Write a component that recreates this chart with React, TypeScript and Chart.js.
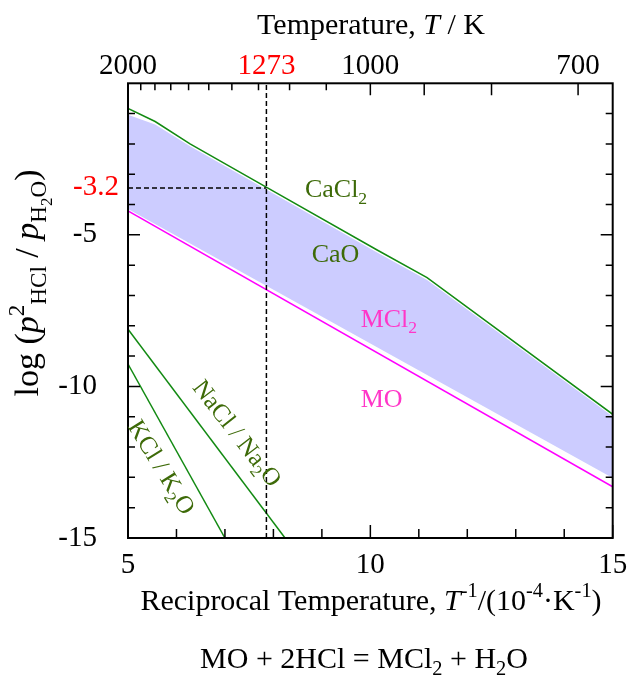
import React, { useEffect, useRef } from 'react';
import { Chart, registerables } from 'chart.js';

Chart.register(...registerables);

const FONT = '"Liberation Serif", "Times New Roman", Times, serif';

// ---- data ----
const caCl2X = [5, 5.56, 6.28, 7.87, 10.14, 11.17, 15];
const caCl2Y = [-0.83, -1.26, -2.0, -3.44, -5.5, -6.41, -10.92];
const fillTopX = [5, 5.56, 6.28, 7.87, 10.14, 11.17, 15];
const fillTopY = [-1.04, -1.36, -2.08, -3.52, -5.58, -6.49, -10.99];
const fillBottomX = [5, 15];
const fillBottomY = [-4.15, -13.02];
const moX = [5, 15];
const moY = [-4.21, -13.31];
const naClX = [5, 8.24];
const naClY = [-8.11, -15];
const kClX = [5, 7.0];
const kClY = [-9.26, -15];

const markTemp = 1273;
const markLogP = -3.45;
const markLabel = '-3.2';

const xTickValues = [5, 10, 15];
const xMinorTicks = [6, 7, 8, 9, 11, 12, 13, 14];
const yTickValues = [-15, -10, -5];
const yMinorTicks = [-14, -13, -12, -11, -9, -8, -7, -6, -4, -3, -2, -1];
const topTempLabels = [2000, 1273, 1000, 700];
const topTempColors = ['#000000', '#ff0000', '#000000', '#000000'];
const topTempMinor = [1900, 1800, 1700, 1600, 1500, 1400, 1300, 1200, 1100];
const topTempMajor = [1000, 900, 800, 700];

const GREEN_LINE = '#128a12';
const GREEN_TEXT = '#3d6a08';
const MAGENTA_LINE = '#ff00ff';
const MAGENTA_TEXT = '#ff36c8';
const FILL = '#ccccff';

const pts = (xs: number[], ys: number[]) => xs.map((x, i) => ({ x, y: ys[i] }));

type Seg = { t: string; i?: boolean; k?: 'sup' | 'sub' | 'subsub' };

function segScale(s: Seg) {
  if (s.k === 'subsub') return 0.5;
  if (s.k) return 0.68;
  return 1;
}
function segDy(s: Seg, size: number) {
  if (s.k === 'sup') return -0.42 * size;
  if (s.k === 'sub') return 0.24 * size;
  if (s.k === 'subsub') return 0.4 * size;
  return 0;
}
function drawRich(
  ctx: CanvasRenderingContext2D,
  segs: Seg[],
  x: number,
  y: number,
  size: number,
  color: string,
  align: 'left' | 'center' | 'right'
) {
  ctx.textAlign = 'left';
  ctx.textBaseline = 'alphabetic';
  ctx.fillStyle = color;
  const widths = segs.map((s) => {
    ctx.font = `${s.i ? 'italic ' : ''}${size * segScale(s)}px ${FONT}`;
    return ctx.measureText(s.t).width;
  });
  const total = widths.reduce((a, b) => a + b, 0);
  let cx = align === 'center' ? x - total / 2 : align === 'right' ? x - total : x;
  segs.forEach((s, idx) => {
    ctx.font = `${s.i ? 'italic ' : ''}${size * segScale(s)}px ${FONT}`;
    ctx.fillText(s.t, cx, y + segDy(s, size));
    cx += widths[idx];
  });
}

const overlay = {
  id: 'overlay',
  afterDraw(chart: any) {
    const ctx: CanvasRenderingContext2D = chart.ctx;
    const { left, right, top, bottom } = chart.chartArea;
    const xs = chart.scales.x;
    const ys = chart.scales.y;
    ctx.save();

    // ticks
    ctx.strokeStyle = '#000';
    ctx.lineWidth = 1.5;
    ctx.beginPath();
    const tickX = (v: number, len: number) => {
      const p = xs.getPixelForValue(v);
      ctx.moveTo(p, bottom);
      ctx.lineTo(p, bottom - len);
    };
    xTickValues.forEach((v) => tickX(v, 13));
    xMinorTicks.forEach((v) => tickX(v, 9));
    const tickTop = (t: number, len: number) => {
      const p = xs.getPixelForValue(1e4 / t);
      ctx.moveTo(p, top);
      ctx.lineTo(p, top + len);
    };
    topTempMinor.forEach((t) => tickTop(t, 7));
    topTempMajor.forEach((t) => tickTop(t, 12));
    const tickY = (v: number, len: number) => {
      const p = ys.getPixelForValue(v);
      ctx.moveTo(left, p);
      ctx.lineTo(left + len, p);
      ctx.moveTo(right, p);
      ctx.lineTo(right - len, p);
    };
    yTickValues.forEach((v) => tickY(v, 12));
    yMinorTicks.forEach((v) => tickY(v, 7));
    ctx.stroke();

    // frame
    ctx.lineWidth = 2;
    ctx.strokeRect(left, top, right - left, bottom - top);

    // red -3.2 label
    ctx.font = `29px ${FONT}`;
    ctx.fillStyle = '#ff0000';
    ctx.textAlign = 'right';
    ctx.textBaseline = 'middle';
    ctx.fillText(markLabel, left - 9, ys.getPixelForValue(markLogP));

    // axis titles
    drawRich(ctx, [{ t: 'Temperature, ' }, { t: 'T', i: true }, { t: ' / K' }], 371, 34, 30, '#000', 'center');
    drawRich(
      ctx,
      [
        { t: 'Reciprocal Temperature, ' },
        { t: 'T', i: true },
        { t: '-1', k: 'sup' },
        { t: '/(10' },
        { t: '-4', k: 'sup' },
        { t: '\u00b7K' },
        { t: '-1', k: 'sup' },
        { t: ')' },
      ],
      371,
      610,
      30,
      '#000',
      'center'
    );
    drawRich(
      ctx,
      [{ t: 'MO + 2HCl = MCl' }, { t: '2', k: 'sub' }, { t: ' + H' }, { t: '2', k: 'sub' }, { t: 'O' }],
      364,
      668,
      30,
      '#000',
      'center'
    );
    ctx.save();
    ctx.translate(38, 283);
    ctx.rotate(-Math.PI / 2);
    drawRich(
      ctx,
      [
        { t: 'log (' },
        { t: 'p', i: true },
        { t: '2', k: 'sup' },
        { t: 'HCl', k: 'sub' },
        { t: ' / ' },
        { t: 'p', i: true },
        { t: 'H', k: 'sub' },
        { t: '2', k: 'subsub' },
        { t: 'O', k: 'sub' },
        { t: ')' },
      ],
      0,
      0,
      34,
      '#000',
      'center'
    );
    ctx.restore();

    // region labels
    const px = (x: number) => xs.getPixelForValue(x);
    const py = (y: number) => ys.getPixelForValue(y);
    drawRich(ctx, [{ t: 'CaCl' }, { t: '2', k: 'sub' }], px(8.65), py(-3.76), 26, GREEN_TEXT, 'left');
    drawRich(ctx, [{ t: 'CaO' }], px(8.79), py(-5.88), 26, GREEN_TEXT, 'left');
    drawRich(ctx, [{ t: 'MCl' }, { t: '2', k: 'sub' }], px(9.8), py(-8.03), 26, MAGENTA_TEXT, 'left');
    drawRich(ctx, [{ t: 'MO' }], px(9.8), py(-10.67), 26, MAGENTA_TEXT, 'left');

    const rotated = (segs: Seg[], cx: number, cy: number, deg: number, size: number) => {
      ctx.save();
      ctx.translate(cx, cy);
      ctx.rotate((deg * Math.PI) / 180);
      drawRich(ctx, segs, 0, 0.33 * size, size, GREEN_TEXT, 'center');
      ctx.restore();
    };
    rotated([{ t: 'NaCl / Na' }, { t: '2', k: 'sub' }, { t: 'O' }], px(7.26), py(-11.54), 52, 25);
    rotated([{ t: 'KCl / K' }, { t: '2', k: 'sub' }, { t: 'O' }], px(5.7), py(-12.66), 58.6, 25);

    ctx.restore();
  },
};

export default function App() {
  const ref = useRef<HTMLCanvasElement>(null);
  useEffect(() => {
    const markX = 1e4 / markTemp;
    const lineDs = (data: any[], color: string, extra: any = {}) => ({
      data,
      showLine: true,
      borderColor: color,
      backgroundColor: color,
      borderWidth: 1.5,
      pointRadius: 0,
      fill: false,
      tension: 0,
      ...extra,
    });
    const chart = new Chart(ref.current as HTMLCanvasElement, {
      type: 'scatter',
      data: {
        datasets: [
          lineDs([{ x: markX, y: -15 }, { x: markX, y: 0 }], '#000', { borderDash: [5, 3], order: 0 }),
          lineDs([{ x: 5, y: markLogP }, { x: markX, y: markLogP }], '#000', { borderDash: [5, 3], order: 0 }),
          lineDs(pts(caCl2X, caCl2Y), GREEN_LINE, { order: 1 }),
          lineDs(pts(moX, moY), MAGENTA_LINE, { order: 1 }),
          lineDs(pts(naClX, naClY), GREEN_LINE, { order: 1 }),
          lineDs(pts(kClX, kClY), GREEN_LINE, { order: 1 }),
          lineDs(pts(fillTopX, fillTopY), 'rgba(0,0,0,0)', {
            fill: '+1',
            backgroundColor: FILL,
            borderWidth: 0,
            order: 5,
          }),
          lineDs(pts(fillBottomX, fillBottomY), 'rgba(0,0,0,0)', { borderWidth: 0, order: 5 }),
        ],
      },
      options: {
        responsive: false,
        animation: false,
        events: [],
        layout: { padding: { left: 0, right: 15.3, top: 0, bottom: 0 } },
        plugins: { legend: { display: false }, tooltip: { enabled: false } },
        scales: {
          x: {
            type: 'linear',
            position: 'bottom',
            min: 5,
            max: 15,
            grid: { display: false, drawTicks: false },
            border: { display: false },
            afterBuildTicks: (s: any) => {
              s.ticks = xTickValues.map((v) => ({ value: v }));
            },
            ticks: {
              font: { family: FONT, size: 29 },
              color: '#000',
              padding: 10,
              maxRotation: 0,
              minRotation: 0,
              autoSkip: false,
            },
            afterFit: (s: any) => {
              s.height = 137;
              s.paddingLeft = 0;
              s.paddingRight = 0;
            },
          },
          x2: {
            type: 'linear',
            position: 'top',
            min: 5,
            max: 15,
            grid: { display: false, drawTicks: false },
            border: { display: false },
            afterBuildTicks: (s: any) => {
              s.ticks = topTempLabels.map((t) => ({ value: 1e4 / t }));
            },
            ticks: {
              font: { family: FONT, size: 29 },
              color: (c: any) => topTempColors[c.index] || '#000',
              padding: 0,
              maxRotation: 0,
              minRotation: 0,
              autoSkip: false,
              callback: (_v: any, i: number) => String(topTempLabels[i]),
            },
            afterFit: (s: any) => {
              s.height = 83.3;
              s.paddingLeft = 0;
              s.paddingRight = 0;
            },
          },
          y: {
            type: 'linear',
            min: -15,
            max: 0,
            grid: { display: false, drawTicks: false },
            border: { display: false },
            afterBuildTicks: (s: any) => {
              s.ticks = yTickValues.map((v) => ({ value: v }));
            },
            ticks: {
              font: { family: FONT, size: 29 },
              color: '#000',
              padding: 31,
              autoSkip: false,
            },
            afterFit: (s: any) => {
              s.width = 128;
              s.paddingTop = 0;
              s.paddingBottom = 0;
            },
          },
        },
      } as any,
      plugins: [overlay],
    });
    return () => chart.destroy();
  }, []);
  return (
    <div style={{ position: 'absolute', left: 0, top: 0, width: 628, height: 675, background: '#fff' }}>
      <canvas ref={ref} width={628} height={675} style={{ display: 'block' }} />
    </div>
  );
}
